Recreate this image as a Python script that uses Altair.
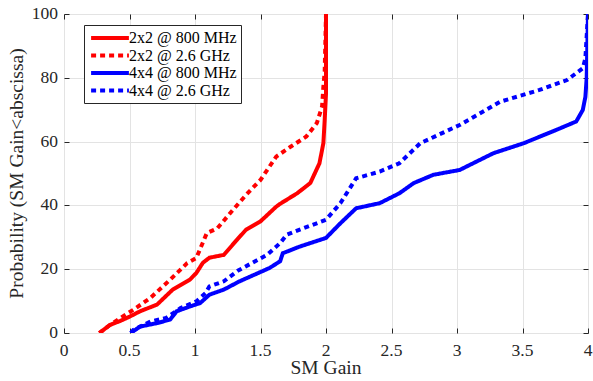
import altair as alt
import pandas as pd

series_names = ["2x2 @ 800 MHz", "2x2 @ 2.6 GHz", "4x4 @ 800 MHz", "4x4 @ 2.6 GHz"]
series_colors = ["#ff0000", "#ff0000", "#0000ff", "#0000ff"]
series_dash = [[1, 0], [5, 4], [1, 0], [5, 4]]

red_solid_x = [0.27, 0.35, 0.43, 0.50, 0.58, 0.71, 0.83, 0.96, 1.01, 1.06, 1.11, 1.22, 1.32, 1.39,
               1.50, 1.62, 1.65, 1.78, 1.88, 1.95, 1.98, 1.99, 2.0, 2.0]
red_solid_y = [0, 2.5, 3.8, 5.1, 6.8, 8.9, 13.6, 16.7, 18.8, 22, 23.6, 24.5, 29.2, 32.4,
               35, 39.6, 40.5, 43.8, 47, 53.2, 59.5, 66.8, 75, 100]

red_dot_x = [0.27, 0.35, 0.43, 0.53, 0.66, 0.81, 0.94, 1.01, 1.09, 1.17, 1.29, 1.39, 1.50, 1.62,
             1.73, 1.85, 1.93, 1.97, 1.98, 1.99, 2.0]
red_dot_y = [0, 2.5, 4.7, 7.3, 11, 16.7, 21.9, 23.5, 31.3, 32.8, 38.6, 43.3, 48, 55.3,
             58.4, 61.6, 65.8, 71, 77.2, 82, 100]

blue_solid_x = [0.51, 0.58, 0.71, 0.81, 0.86, 0.96, 1.04, 1.11, 1.22, 1.34, 1.57, 1.65, 1.67, 1.80,
                2.0, 2.11, 2.23, 2.41, 2.56, 2.67, 2.82, 3.02, 3.28, 3.51, 3.76, 3.91, 3.96, 3.98,
                3.99, 4.0]
blue_solid_y = [0, 2, 3.1, 4.2, 6.8, 8.3, 9.4, 12, 13.6, 16.2, 20.4, 22.5, 25, 27.1,
                29.8, 34.4, 39.1, 40.7, 43.8, 47, 49.6, 51.1, 56.4, 59.5, 63.7, 66.3, 69.9, 74,
                80, 100]

blue_dot_x = [0.51, 0.53, 0.66, 0.78, 0.89, 1.01, 1.08, 1.11, 1.22, 1.33, 1.55, 1.65, 1.70, 1.80,
              2.0, 2.11, 2.23, 2.41, 2.56, 2.72, 3.02, 3.33, 3.63, 3.84, 3.96, 3.98, 4.0]
blue_dot_y = [0, 1, 3.6, 4.7, 7.8, 9.9, 12.5, 14.6, 16.2, 19.6, 24.5, 28.2, 30.8, 32.4,
              35.5, 40.7, 48.5, 50.6, 53.2, 59.5, 65.2, 72.5, 76.2, 79.3, 83, 86.1, 100]

x_ticks = [0, 0.5, 1, 1.5, 2, 2.5, 3, 3.5, 4]
y_ticks = [0, 20, 40, 60, 80, 100]
x_title = ["SM Gain"]
y_title = ["Probability (SM Gain<abscissa)"]

FONT = "Liberation Serif, serif"
TXT = "#262626"

rows = []
for name, xs, ys in zip(series_names,
                        [red_solid_x, red_dot_x, blue_solid_x, blue_dot_x],
                        [red_solid_y, red_dot_y, blue_solid_y, blue_dot_y]):
    for i, (xv, yv) in enumerate(zip(xs, ys)):
        rows.append({"series": name, "idx": i, "x": xv, "y": yv})
df = pd.DataFrame(rows)

xscale = alt.Scale(domain=[0, 4], nice=False, zero=False)
yscale = alt.Scale(domain=[0, 100], nice=False, zero=False)

xaxis = alt.Axis(values=x_ticks, grid=True, ticks=False, domain=False, labels=False,
                 title=None, gridColor="#e3e3e3")
yaxis = alt.Axis(values=y_ticks, grid=True, ticks=False, domain=False, labels=False,
                 title=None, gridColor="#e3e3e3")


def tick_axis(vals, orient):
    return alt.Axis(values=vals, orient=orient, offset=-5, tickSize=5, tickColor=TXT,
                    tickWidth=1, labels=False, domain=False, grid=False, title=None)


legend = alt.Legend(
    title=None, orient="none", legendX=20, legendY=11, direction="vertical",
    fillColor="white", strokeColor=TXT, padding=4,
    symbolType="M-2.7,0H2.7", symbolSize=196, symbolStrokeWidth=4,
    symbolOffset=13, labelOffset=10,
    labelFont=FONT, labelFontSize=16, labelColor="#000000",
    rowPadding=0.5, labelLimit=300,
)

lines = alt.Chart(df).mark_line(strokeWidth=4, strokeCap="butt", clip=True).encode(
    x=alt.X("x:Q", scale=xscale, axis=xaxis),
    y=alt.Y("y:Q", scale=yscale, axis=yaxis),
    color=alt.Color("series:N", scale=alt.Scale(domain=series_names, range=series_colors),
                    sort=series_names, legend=legend),
    strokeDash=alt.StrokeDash("series:N", scale=alt.Scale(domain=series_names, range=series_dash),
                              sort=series_names, legend=legend),
    order=alt.Order("idx:Q"),
)

xt = pd.DataFrame({"v": x_ticks})
yt = pd.DataFrame({"v": y_ticks})

ticks_bl = alt.Chart(xt).mark_point(opacity=0).encode(
    x=alt.X("v:Q", scale=xscale, axis=tick_axis(x_ticks, "bottom")),
    y=alt.Y(datum=0, scale=yscale, axis=tick_axis(y_ticks, "left")))
ticks_tr = alt.Chart(xt).mark_point(opacity=0).encode(
    x=alt.X("v:Q", scale=xscale, axis=tick_axis(x_ticks, "top")),
    y=alt.Y(datum=0, scale=yscale, axis=tick_axis(y_ticks, "right")))

xlabels = alt.Chart(xt).mark_text(
    font=FONT, fontSize=17.5, color=TXT, align="center", baseline="alphabetic", dy=23
).encode(
    x=alt.X("v:Q", scale=xscale, axis=None),
    y=alt.value(319),
    text=alt.Text("v:Q", format="~r"),
)
ylabels = alt.Chart(yt).mark_text(
    font=FONT, fontSize=17.5, color=TXT, align="right", baseline="middle", dx=-6
).encode(
    y=alt.Y("v:Q", scale=yscale, axis=None),
    x=alt.value(0),
    text=alt.Text("v:Q", format="~r"),
)
xtitle = alt.Chart(pd.DataFrame({"t": x_title})).mark_text(
    font=FONT, fontSize=19.5, color=TXT, align="center", baseline="alphabetic"
).encode(x=alt.value(262), y=alt.value(360), text="t:N")
ytitle = alt.Chart(pd.DataFrame({"t": y_title})).mark_text(
    font=FONT, fontSize=19.5, color=TXT, align="center", baseline="middle", angle=270
).encode(x=alt.value(-47), y=alt.value(159.5), text="t:N")

chart = alt.layer(lines, ticks_bl, ticks_tr, xlabels, ylabels, xtitle, ytitle).resolve_axis(
    x="independent", y="independent"
).properties(
    width=524, height=319,
    autosize=alt.AutoSizeParams(type="none"),
    padding={"left": 64, "top": 14, "right": 5, "bottom": 48},
).configure_view(
    stroke=TXT, strokeWidth=1
).configure(
    background="white", font=FONT,
)

chart.save("out.html", embed_options={"renderer": "svg", "actions": False})
